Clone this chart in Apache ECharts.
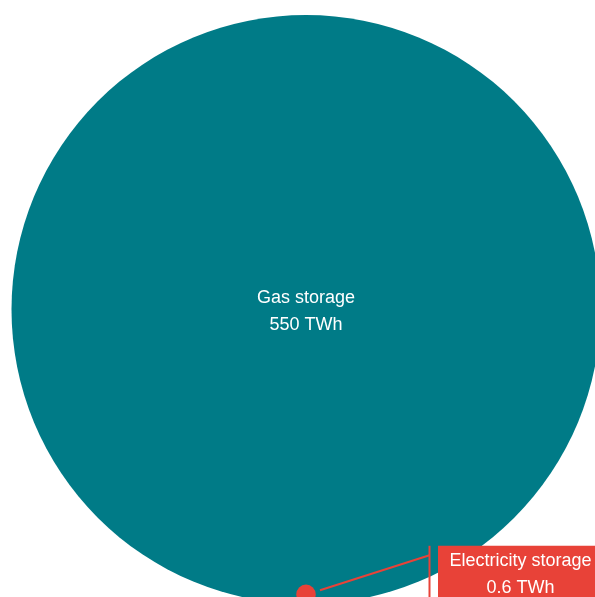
<!DOCTYPE html>
<html>
<head>
<meta charset="utf-8">
<script src="https://cdn.jsdelivr.net/npm/echarts@6/dist/echarts.min.js"></script>
<style>
html,body{margin:0;padding:0;background:#fff;}
#main{width:595px;height:597px;}
</style>
</head>
<body>
<div id="main"></div>
<script>
const categories = ['Gas storage', 'Electricity storage'];
const values = [550, 0.6];
const unit = 'TWh';
const colors = ['#007B87', '#E84238'];

const maxV = Math.max.apply(null, values);
const chart = echarts.init(document.getElementById('main'), null, {renderer: 'canvas'});
const FONT = '"Liberation Sans", Arial, sans-serif';

function renderItem(params, api) {
  const i = params.dataIndex;
  const v = api.value(0);
  const r = Math.sqrt(v / maxV); // radius in data units
  const c = api.coord([0, r]);
  const rp = api.size([r, r])[0];
  const children = [{
    type: 'circle',
    shape: {cx: c[0], cy: c[1], r: rp},
    style: {fill: colors[i]}
  }];
  const text = categories[i] + '\n' + v + ' ' + unit;
  if (i === 0) {
    children.push({
      type: 'text',
      style: {
        x: c[0], y: c[1] + 2, text: text, fill: '#fff',
        font: '18px ' + FONT, align: 'center', verticalAlign: 'middle', lineHeight: 27
      }
    });
  } else {
    const sx = c[0] + 14, sy = c[1] - 4;
    const vx = c[0] + 123.5, vy = c[1] - 39;
    children.push({
      type: 'line',
      shape: {x1: sx, y1: sy, x2: vx, y2: vy},
      style: {stroke: colors[i], lineWidth: 2}
    });
    children.push({
      type: 'line',
      shape: {x1: vx, y1: c[1] - 48.5, x2: vx, y2: c[1] + 10},
      style: {stroke: colors[i], lineWidth: 2}
    });
    children.push({
      type: 'rect',
      shape: {x: c[0] + 132, y: c[1] - 48.5, width: 166, height: 56},
      style: {fill: colors[i]}
    });
    children.push({
      type: 'text',
      style: {
        x: c[0] + 214.5, y: c[1] - 20, text: text, fill: '#fff',
        font: '18px ' + FONT, align: 'center', verticalAlign: 'middle', lineHeight: 27
      }
    });
  }
  return {type: 'group', children: children};
}

// axis ranges chosen so that 1 data unit = 294.5 px on both axes
chart.setOption({
  animation: false,
  grid: {left: 11.5, top: 15, right: 0, bottom: 0},
  xAxis: {type: 'value', min: -1, max: 583.5 / 294.5 - 1, show: false},
  yAxis: {type: 'value', min: 7 / 294.5, max: 2, show: false},
  series: [{
    type: 'custom',
    renderItem: renderItem,
    clip: false,
    data: values.map(function (v, i) { return [v, i]; })
  }]
});
</script>
</body>
</html>
